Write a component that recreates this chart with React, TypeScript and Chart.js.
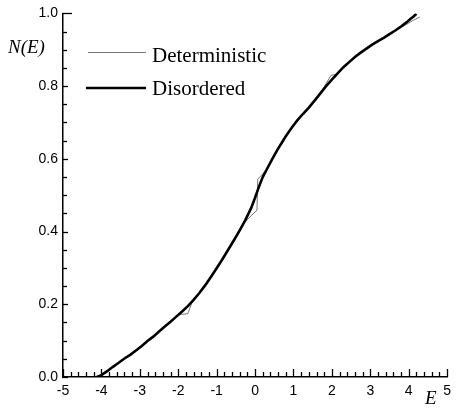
import React, { useEffect, useRef } from "react";
import { Chart, registerables } from "chart.js";
Chart.register(...registerables);

// Disordered system: integrated density of states N(E)
const disorderedE = [
  -4.12, -4.0, -3.85, -3.7, -3.55, -3.4, -3.25, -3.1, -2.95, -2.8, -2.65, -2.5, -2.35, -2.2, -2.05,
  -1.9, -1.75, -1.6, -1.45, -1.3, -1.15, -1.0, -0.85, -0.7, -0.55, -0.4, -0.25, -0.1, 0.0, 0.1,
  0.2, 0.3, 0.45, 0.6, 0.7, 0.8, 0.95, 1.1, 1.25, 1.4, 1.55, 1.7, 1.85, 2.0, 2.15, 2.3, 2.45,
  2.6, 2.75, 2.9, 3.05, 3.2, 3.35, 3.5, 3.65, 3.8, 3.95, 4.05, 4.12, 4.2,
];
const disorderedN = [
  0.0, 0.005, 0.016, 0.028, 0.039, 0.051, 0.061, 0.073, 0.085, 0.099, 0.111, 0.125, 0.139, 0.152, 0.166,
  0.180, 0.195, 0.212, 0.231, 0.252, 0.275, 0.299, 0.324, 0.350, 0.376, 0.403, 0.432, 0.465, 0.493, 0.523,
  0.550, 0.570, 0.600, 0.628, 0.645, 0.662, 0.685, 0.706, 0.724, 0.741, 0.760, 0.780, 0.800, 0.818, 0.835,
  0.852, 0.866, 0.880, 0.892, 0.903, 0.914, 0.924, 0.933, 0.943, 0.953, 0.964, 0.976, 0.985, 0.991, 0.999,
];

// Deterministic system
const deterministicE = [
  -4.05, -3.85, -3.7, -3.55, -3.4, -3.25, -3.1, -2.95, -2.8, -2.65, -2.5, -2.35, -2.2, -2.05,
  -1.95, -1.75, -1.62, -1.45, -1.3, -1.15, -1.0, -0.85, -0.7, -0.55, -0.4, -0.25, 0.05, 0.07,
  0.3, 0.45, 0.6, 0.7, 0.8, 0.95, 1.1, 1.25, 1.4, 1.55, 1.7, 1.98, 2.11, 2.3, 2.45, 2.6, 2.75,
  2.9, 3.05, 3.2, 3.35, 3.5, 3.65, 3.8, 3.96, 4.12, 4.29,
];
const deterministicN = [
  0.0, 0.016, 0.028, 0.039, 0.051, 0.061, 0.073, 0.085, 0.099, 0.111, 0.125, 0.139, 0.152, 0.166,
  0.172, 0.174, 0.212, 0.231, 0.252, 0.275, 0.299, 0.324, 0.350, 0.376, 0.403, 0.428, 0.459, 0.544,
  0.570, 0.600, 0.628, 0.645, 0.662, 0.685, 0.706, 0.724, 0.741, 0.760, 0.780, 0.830, 0.832, 0.852, 0.866,
  0.880, 0.892, 0.903, 0.914, 0.924, 0.933, 0.943, 0.953, 0.961, 0.971, 0.981, 0.990,
];

const xTickLabels = ["-5", "-4", "-3", "-2", "-1", "0", "1", "2", "3", "4", "5"];
const yTickLabels = ["0.0", "0.2", "0.4", "0.6", "0.8", "1.0"];
const legendLabels = ["Deterministic", "Disordered"];
const yAxisTitle = "N(E)";
const xAxisTitle = "E";

const decorPlugin = {
  id: "decor",
  afterDraw(chart: any) {
    const ctx = chart.ctx;
    const xs = chart.scales.x;
    const ys = chart.scales.y;
    const { left, bottom } = chart.chartArea;
    ctx.save();
    ctx.strokeStyle = "#000";
    ctx.lineWidth = 1.3;
    // y ticks (inward)
    for (let i = 0; i <= 20; i++) {
      const v = i * 0.05;
      const py = Math.round(ys.getPixelForValue(v)) + 0.5;
      const len = i === 20 ? 9 : i % 4 === 0 ? 5 : 4;
      ctx.beginPath();
      ctx.moveTo(left - (i % 4 === 0 ? 1 : 0), py);
      ctx.lineTo(left + len, py);
      ctx.stroke();
    }
    // x ticks (inward)
    for (let i = 0; i <= 50; i++) {
      const v = -5 + i * 0.2;
      const px = Math.round(xs.getPixelForValue(v)) + 0.5;
      const len = i % 5 === 0 ? 8 : 5;
      ctx.beginPath();
      ctx.moveTo(px, bottom);
      ctx.lineTo(px, bottom - len);
      ctx.stroke();
    }
    // axis titles
    ctx.fillStyle = "#000";
    ctx.font = "italic 19px 'Liberation Serif', serif";
    ctx.textBaseline = "middle";
    ctx.textAlign = "left";
    ctx.fillText(yAxisTitle, 8, 48);
    ctx.fillText(xAxisTitle, 425, 399);
    // legend
    ctx.strokeStyle = "#777";
    ctx.lineWidth = 1;
    ctx.beginPath();
    ctx.moveTo(88, 52.5);
    ctx.lineTo(146, 52.5);
    ctx.stroke();
    ctx.strokeStyle = "#000";
    ctx.lineWidth = 2.6;
    ctx.beginPath();
    ctx.moveTo(86, 88);
    ctx.lineTo(146, 88);
    ctx.stroke();
    ctx.font = "21px 'Liberation Serif', serif";
    ctx.fillText(legendLabels[0], 152, 56);
    ctx.fillText(legendLabels[1], 152, 89);
    ctx.restore();
  },
};

export default function App() {
  const ref = useRef<HTMLCanvasElement | null>(null);
  useEffect(() => {
    if (!ref.current) return;
    const chart = new Chart(ref.current, {
      type: "line",
      data: {
        datasets: [
          {
            label: legendLabels[1],
            data: disorderedE.map((e, i) => ({ x: e, y: disorderedN[i] })),
            borderColor: "#000",
            borderWidth: 2.6,
            pointRadius: 0,
            tension: 0,
            fill: false,
            order: 0,
          },
          {
            label: legendLabels[0],
            data: deterministicE.map((e, i) => ({ x: e, y: deterministicN[i] })),
            borderColor: "#666",
            borderWidth: 0.9,
            pointRadius: 0,
            tension: 0,
            fill: false,
            order: 1,
          },
        ],
      },
      options: {
        responsive: false,
        animation: false,
        layout: { padding: { top: 12, right: 5, left: 0, bottom: 0 } },
        plugins: { legend: { display: false }, tooltip: { enabled: false } },
        scales: {
          x: {
            type: "linear",
            min: -5,
            max: 5,
            afterFit: (s: any) => {
              s.height = 33;
            },
            ticks: {
              stepSize: 1,
              autoSkip: false,
              maxRotation: 0,
              padding: 6,
              color: "#000",
              font: { family: "'Liberation Sans', Arial, sans-serif", size: 14 },
              callback: (v: any) => {
                const idx = Math.round(Number(v)) + 5;
                return xTickLabels[idx] ?? "";
              },
            },
            grid: { display: false, drawTicks: false },
            border: { display: true, color: "#000", width: 1.5 },
          },
          y: {
            type: "linear",
            min: 0,
            max: 1,
            afterFit: (s: any) => {
              s.width = 63;
            },
            ticks: {
              stepSize: 0.2,
              padding: 5,
              color: "#000",
              font: { family: "'Liberation Sans', Arial, sans-serif", size: 14 },
              callback: (v: any) => yTickLabels[Math.round(Number(v) * 5)] ?? "",
            },
            grid: { display: false, drawTicks: false },
            border: { display: true, color: "#000", width: 1.5 },
          },
        },
      },
      plugins: [decorPlugin],
    });
    return () => chart.destroy();
  }, []);
  return (
    <div style={{ position: "absolute", left: 0, top: 0, width: 457, height: 410 }}>
      <canvas ref={ref} width={457} height={410} />
    </div>
  );
}
